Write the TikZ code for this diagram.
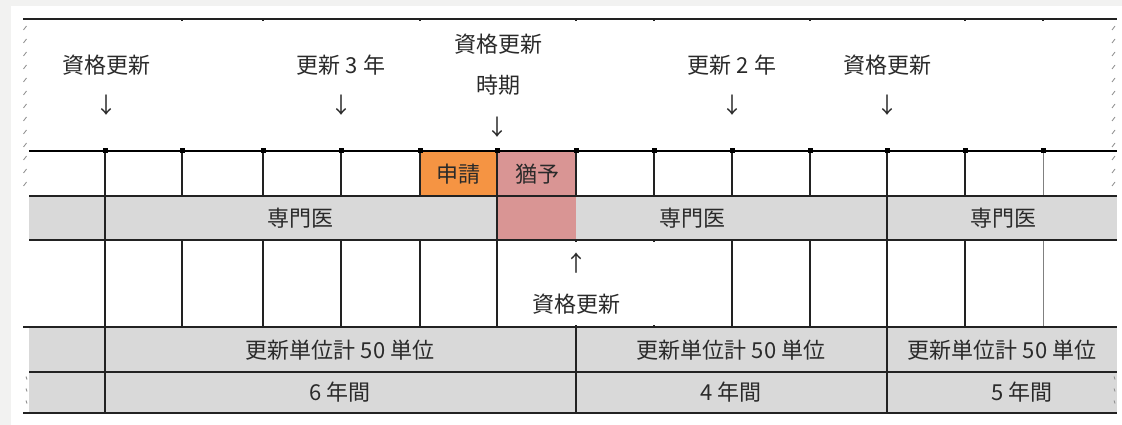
\documentclass[tikz,border=0pt]{standalone}
\usepackage{fontspec}
\newfontfamily\jp{Noto Sans CJK JP}
\definecolor{pagegray}{HTML}{F2F2F1}
\definecolor{cellgray}{HTML}{D9D9D9}
\definecolor{orangecell}{HTML}{F59443}
\definecolor{pinkcell}{HTML}{D99594}
\definecolor{ink}{HTML}{222222}
\definecolor{txt}{HTML}{2A2A2A}
\definecolor{hatch}{HTML}{8A8A8A}
\tikzset{
  lbl/.style={font=\jp\fontsize{22}{24}\selectfont, text=txt, inner sep=0pt, anchor=center},
  grid/.style={draw=ink, line width=1.1pt},
  thin/.style={draw=gray, line width=1pt},
  hatchmark/.style={draw=hatch, line width=0.8pt},
}
\begin{document}
\begin{tikzpicture}[x=1pt,y=-1pt]
\useasboundingbox (0,0) rectangle (1122,425);
\fill[pagegray] (0,0) rectangle (1122,425);
\fill[white] (11,6) rectangle (1122,425);
% coloured cells
\fill[orangecell] (420,151) rectangle (497,196);
\fill[pinkcell] (497,151) rectangle (576,196);
\fill[cellgray] (29,196) rectangle (1117,240);
\fill[pinkcell] (497,196) rectangle (576,240);
\fill[cellgray] (29,327) rectangle (1117,413);
% break hatch marks
\foreach \yy in {28,41,54,67,80,93,106,119,132,145,158,171,184}{
  \draw[hatchmark] (23.5,\yy+2) -- (26.5,\yy-2);
  \draw[hatchmark] (1112,\yy+2) -- (1115,\yy-2);
}
\foreach \yy in {378,390,402}{
  \draw[hatchmark] (26,\yy-1.5) -- (27,\yy+1.5);
  \draw[hatchmark] (1114,\yy-1.5) -- (1115,\yy+1.5);
}
% top line with ticks
\draw[grid] (23,19) -- (1117,19);
\foreach \xx in {182,263,420,576,654,810,965,1043}{\draw[grid] (\xx,19) -- (\xx,21);}
% row 1 verticals
\foreach \xx in {105,182,263,341,420,497,576,654,732,810,887,965}{\draw[grid] (\xx,151) -- (\xx,196);}
\draw[thin] (1043,151) -- (1043,196);
% long verticals
\draw[grid] (105,196) -- (105,413);
\draw[grid] (887,196) -- (887,413);
\draw[grid] (497,196) -- (497,327);
\draw[grid] (576,327) -- (576,413);
% row 3 verticals
\foreach \xx in {182,263,341,420,732,810,965}{\draw[grid] (\xx,240) -- (\xx,327);}
\draw[thin] (1043,240) -- (1043,327);
\foreach \xx in {576,654}{\draw[grid] (\xx,240) -- (\xx,242); \draw[grid] (\xx,325) -- (\xx,327);}
% horizontal lines
\draw[grid] (29,196) -- (1117,196);
\draw[grid] (29,240) -- (1117,240);
\draw[grid] (23,327) -- (1117,327);
\draw[grid] (29,372) -- (1117,372);
\draw[grid] (23,413) -- (1117,413);
% timeline
\draw[draw=black, line width=2.2pt] (29,151) -- (1117,151);
\foreach \xx in {105,182,263,341,420,497,576,654,732,810,887,965,1043}{\fill[black] (\xx-2.5,148.5) rectangle (\xx+2.5,153.5);}
% top labels
\node[lbl] (l1) at (106,65) {資格更新};
\node[lbl] (a1) at (106,105) {↓};
\node[lbl] (l2) at (341,65) {更新 3 年};
\node[lbl] (a2) at (341,105) {↓};
\node[lbl] (l3a) at (498,44) {資格更新};
\node[lbl] (l3b) at (498,85) {時期};
\node[lbl] (a3) at (497,127) {↓};
\node[lbl] (l4) at (732,65) {更新 2 年};
\node[lbl] (a4) at (732,105) {↓};
\node[lbl] (l5) at (887,65) {資格更新};
\node[lbl] (a5) at (887,105) {↓};
% row 1
\node[lbl] (shinsei) at (458,174) {申請};
\node[lbl] (yuyo) at (537,174) {猶予};
% row 2
\node[lbl] (s1) at (300,218) {専門医};
\node[lbl] (s2) at (692,218) {専門医};
\node[lbl] (s3) at (1003,218) {専門医};
% row 3
\node[lbl] (up) at (576,263) {↑};
\node[lbl] (upl) at (576,304) {資格更新};
% row 4
\node[lbl] (u1) at (340,350) {更新単位計 50 単位};
\node[lbl] (u2) at (731,350) {更新単位計 50 単位};
\node[lbl] (u3) at (1002,350) {更新単位計 50 単位};
% row 5
\node[lbl] (y1) at (340,392) {6 年間};
\node[lbl] (y2) at (731,392) {4 年間};
\node[lbl] (y3) at (1022,392) {5 年間};
\end{tikzpicture}
\end{document}
